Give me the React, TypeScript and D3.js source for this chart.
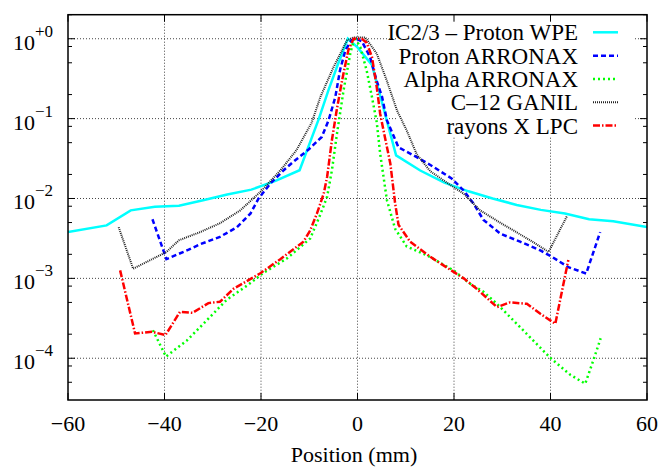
import React from 'react';
import * as d3 from 'd3';

const W = 661;
const H = 467;
const PL = 68, PR = 647, PT = 14.7, PB = 400;

const xTickValues = [-60, -40, -20, 0, 20, 40, 60];
const xTickLabels = ['−60', '−40', '−20', '0', '20', '40', '60'];
const yTickValues = [1, 1e-1, 1e-2, 1e-3, 1e-4];
const yTickSup = ['+0', '−1', '−2', '−3', '−4'];
const yMinorMult = [2, 5, 8];

const seriesNames = ['IC2/3 – Proton WPE', 'Proton ARRONAX', 'Alpha ARRONAX', 'C–12 GANIL', 'rayons X LPC'];

const wpeX = [-60, -52, -47, -42, -37, -32, -27, -22, -17, -12, -8, -6, -4, -2, 0, 3, 8, 13, 18, 23, 28, 33, 38, 43, 48, 53, 60];
const wpeY = [3.8e-3, 4.6e-3, 7.1e-3, 7.9e-3, 8.1e-3, 9.5e-3, 1.12e-2, 1.29e-2, 1.66e-2, 2.26e-2, 0.1, 0.229, 0.49, 1.0, 0.78, 0.47, 3.47e-2, 2.24e-2, 1.58e-2, 1.23e-2, 1.0e-2, 8.3e-3, 7.2e-3, 6.5e-3, 5.5e-3, 5.2e-3, 4.4e-3];

const protonX = [-42.5, -39.6, -35, -32.5, -28.5, -25, -22.2, -20.5, -18, -15.3, -13.3, -10.2, -7.4, -6, -4.6, -3.6, -2.5, -1.2, -0.3, 0.9, 2.6, 4, 5.1, 6.1, 8.5, 11.6, 15.1, 19.5, 22, 24, 26.1, 29.6, 33.7, 37.9, 40.3, 43.7, 47.4, 50.3];
const protonY = [5.5e-3, 1.74e-3, 2.29e-3, 2.69e-3, 3.31e-3, 4.37e-3, 6.46e-3, 1.0e-2, 1.55e-2, 2.26e-2, 2.88e-2, 4.07e-2, 5.9e-2, 9.5e-2, 0.186, 0.41, 0.72, 0.96, 1.0, 0.93, 0.59, 0.295, 0.186, 9.5e-2, 4.37e-2, 3.47e-2, 2.63e-2, 1.78e-2, 1.26e-2, 8.7e-3, 5.4e-3, 3.63e-3, 2.88e-3, 2.24e-3, 1.86e-3, 1.38e-3, 1.15e-3, 3.8e-3];

const alphaX = [-42.4, -39.7, -35.4, -31.2, -27.1, -22.9, -19.5, -14.6, -9.8, -7.7, -6.3, -5.3, -4.3, -2.9, -1.5, -0.6, 0.6, 1.9, 3, 4, 4.7, 6.1, 7.8, 10.2, 14.7, 19.9, 23.4, 26.1, 28.9, 33.7, 39.9, 44.1, 47.2, 48.9, 50.4];
const alphaY = [2.24e-4, 1.05e-4, 1.66e-4, 3.0e-4, 5.4e-4, 8.1e-4, 1.17e-3, 1.78e-3, 3.16e-3, 6.3e-3, 1.05e-2, 2.26e-2, 6.2e-2, 0.224, 0.65, 1.05, 0.78, 0.4, 0.186, 8.9e-2, 3.63e-2, 9.5e-3, 4.17e-3, 2.51e-3, 1.9e-3, 1.26e-3, 8.5e-4, 6.8e-4, 4.8e-4, 2.45e-4, 1.02e-4, 6.2e-5, 4.8e-5, 9.5e-5, 1.78e-4];

const carbonX = [-49.5, -46.5, -39.6, -37, -32.6, -28.5, -24.3, -20.2, -16, -12.6, -9.5, -7.7, -5, -2.2, -0.9, 1.6, 4, 6.1, 8.2, 10.2, 12.3, 15.1, 19.2, 22, 25.4, 30.3, 35.8, 39.6, 43.4];
const carbonY = [4.37e-3, 1.32e-3, 2.14e-3, 3.0e-3, 3.8e-3, 4.9e-3, 7.1e-3, 1.2e-2, 2.24e-2, 4.07e-2, 8.9e-2, 0.186, 0.437, 0.95, 1.04, 1.04, 0.65, 0.295, 0.126, 7.1e-2, 3.55e-2, 2.19e-2, 1.48e-2, 1.15e-2, 7.1e-3, 4.68e-3, 3.0e-3, 2.14e-3, 6.0e-3];

const xrayX = [-49.2, -46.1, -42.6, -39.8, -36.8, -34.2, -30.9, -28.5, -25.7, -20.2, -16, -11.2, -9.8, -8.4, -7, -6.3, -5.3, -4.3, -3.2, -1.9, -0.8, 0.9, 1.9, 3, 4, 4.7, 5.4, 6.8, 7.8, 8.5, 10.9, 15.1, 17.1, 22, 24.7, 28.9, 31.6, 35.1, 37.9, 41, 43.7];
const xrayY = [1.26e-3, 2.04e-4, 2.14e-4, 1.95e-4, 3.8e-4, 3.7e-4, 4.9e-4, 5.1e-4, 7.4e-4, 1.15e-3, 1.74e-3, 2.88e-3, 3.98e-3, 6.5e-3, 1.15e-2, 1.86e-2, 5.4e-2, 0.129, 0.30, 0.72, 1.0, 1.0, 0.89, 0.59, 0.245, 0.115, 7.1e-2, 2.75e-2, 8.7e-3, 4.68e-3, 2.88e-3, 1.86e-3, 1.55e-3, 1.0e-3, 7.4e-4, 4.37e-4, 5.0e-4, 4.8e-4, 3.6e-4, 2.7e-4, 1.7e-3];

const seriesXs = [wpeX, protonX, alphaX, carbonX, xrayX];
const seriesYs = [wpeY, protonY, alphaY, carbonY, xrayY];

const styles = [
  { color: '#00ffff', width: 2.5, dash: '' },
  { color: '#0000ff', width: 2.5, dash: '5,3' },
  { color: '#00ff00', width: 2.5, dash: '2,3' },
  { color: '#222222', width: 2, dash: '1,1' },
  { color: '#ff0000', width: 2.5, dash: '7,2,1.5,2' },
];

const FONT = '"Liberation Serif", "Times New Roman", "DejaVu Serif", serif';

export default function App() {
  const x = d3.scaleLinear().domain([-60, 60]).range([PL, PR]);
  const y = d3.scaleLog().domain([3e-5, 2]).range([PB, PT]);

  const minorY: number[] = [];
  for (const v of yTickValues.concat([1e-5])) {
    for (const m of yMinorMult) {
      const val = v * m;
      if (val >= 3e-5 && val <= 2) minorY.push(val);
    }
  }

  const lineGen = (xs: number[], ys: number[]) =>
    d3.line<number>().x((_, i) => x(xs[i])).y((_, i) => y(ys[i]))(xs.map((_, i) => i)) || '';

  const legendRight = 578;
  const sampleX0 = 593, sampleX1 = 618;
  const rowY0 = 32.3, rowStep = 23.33;

  return (
    <div style={{ position: 'absolute', left: 0, top: 0 }}>
      <svg width={W} height={H} viewBox={`0 0 ${W} ${H}`} style={{ display: 'block', background: '#fff', fontFamily: FONT }}>
        <defs>
          <clipPath id="plotClip">
            <rect x={PL} y={PT} width={PR - PL} height={PB - PT} />
          </clipPath>
        </defs>
        <rect x={0} y={0} width={W} height={H} fill="#fff" />
        {/* grid */}
        <g stroke="#444" strokeWidth={1} strokeDasharray="1,2">
          {xTickValues.slice(1, -1).map((v) => (
            <line key={'gx' + v} x1={x(v)} x2={x(v)} y1={PT} y2={PB} />
          ))}
          {yTickValues.map((v) => (
            <line key={'gy' + v} x1={PL} x2={PR} y1={y(v)} y2={y(v)} />
          ))}
        </g>
        {/* legend box (opaque) */}
        <rect x={398} y={PT} width={235} height={137 - PT} fill="#fff" />
        {/* curves */}
        <g clipPath="url(#plotClip)" fill="none">
          {seriesXs.map((xs, i) => (
            <path key={'s' + i} d={lineGen(xs, seriesYs[i])} stroke={styles[i].color} strokeWidth={styles[i].width}
              strokeDasharray={styles[i].dash || undefined} strokeLinejoin="miter" />
          ))}
        </g>
        {/* frame */}
        <rect x={PL} y={PT} width={PR - PL} height={PB - PT} fill="none" stroke="#000" strokeWidth={1.5} />
        {/* ticks */}
        <g stroke="#000" strokeWidth={1}>
          {xTickValues.map((v) => (
            <g key={'tx' + v}>
              <line x1={x(v)} x2={x(v)} y1={PB} y2={PB - 7} />
              <line x1={x(v)} x2={x(v)} y1={PT} y2={PT + 7} />
            </g>
          ))}
          {yTickValues.map((v) => (
            <g key={'ty' + v}>
              <line x1={PL} x2={PL + 7} y1={y(v)} y2={y(v)} />
              <line x1={PR} x2={PR - 7} y1={y(v)} y2={y(v)} />
            </g>
          ))}
          {minorY.map((v) => (
            <g key={'tm' + v}>
              <line x1={PL} x2={PL + 4} y1={y(v)} y2={y(v)} />
              <line x1={PR} x2={PR - 4} y1={y(v)} y2={y(v)} />
            </g>
          ))}
        </g>
        {/* tick labels */}
        <g fontSize={22} fill="#000" style={{ fontFamily: FONT }}>
          {xTickValues.map((v, i) => (
            <text key={'lx' + v} x={x(v)} y={431} textAnchor="middle">{xTickLabels[i]}</text>
          ))}
          {yTickValues.map((v, i) => (
            <text key={'ly' + v} x={13} y={y(v) + 11}>
              10<tspan dy={-13} fontSize={17}>{yTickSup[i]}</tspan>
            </text>
          ))}
          <text x={354} y={462} textAnchor="middle">Position (mm)</text>
        </g>
        {/* legend */}
        <g fontSize={23} fill="#000" style={{ fontFamily: FONT }}>
          {seriesNames.map((name, i) => {
            const cy = rowY0 + i * rowStep;
            return (
              <g key={'leg' + i}>
                <text x={legendRight} y={cy + 8} textAnchor="end">{name}</text>
                <line x1={sampleX0} x2={sampleX1} y1={cy} y2={cy} stroke={styles[i].color} strokeWidth={styles[i].width}
                  strokeDasharray={styles[i].dash || undefined} />
              </g>
            );
          })}
        </g>
      </svg>
    </div>
  );
}
